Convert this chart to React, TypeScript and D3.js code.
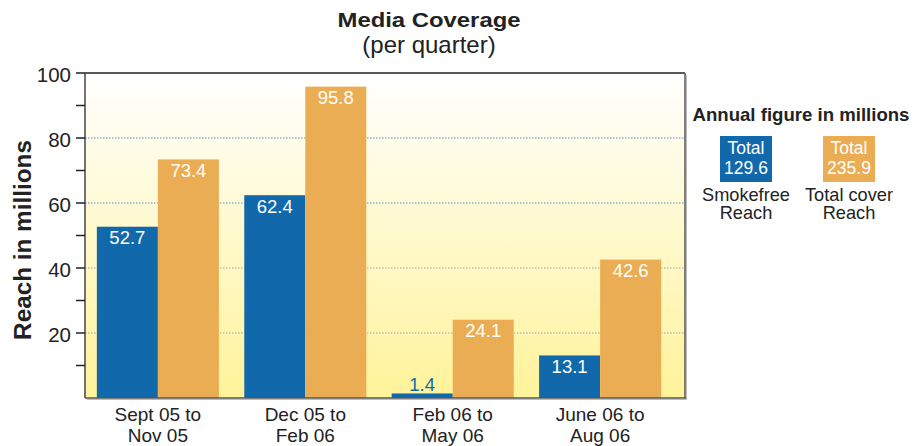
import React from "react";
import * as d3 from "d3";

const categories = [["Sept 05 to", "Nov 05"], ["Dec 05 to", "Feb 06"], ["Feb 06 to", "May 06"], ["June 06 to", "Aug 06"]];
const seriesNames = ["Smokefree Reach", "Total cover Reach"];
const smokefree = [52.7, 62.4, 1.4, 13.1];
const totalCover = [73.4, 95.8, 24.1, 42.6];
const totals = ["129.6", "235.9"];
const yTicks = [20, 40, 60, 80, 100];
const yMinor = [10, 30, 50, 70, 90];

const BLUE = "#1169ab";
const ORANGE = "#ebad53";
const FONT = "Liberation Sans, Arial, sans-serif";

export default function App() {
  const W = 922, H = 446;
  const left = 85, right = 685, top = 73, bottom = 398;
  const y = d3.scaleLinear().domain([0, 100]).range([bottom, top]);
  const x = d3.scaleBand<number>().domain([0, 1, 2, 3]).range([88, 670]).paddingInner(0.172).paddingOuter(0.06);
  const bw = x.bandwidth() / 2;
  const series = [smokefree, totalCover];
  const colors = [BLUE, ORANGE];

  return (
    <svg width={W} height={H} style={{ position: "absolute", left: 0, top: 0, fontFamily: FONT }}>
      <defs>
        <linearGradient id="bg" x1="0" y1="0" x2="0" y2="1">
          <stop offset="0" stopColor="#ffffff" />
          <stop offset="1" stopColor="#fff39a" />
        </linearGradient>
      </defs>
      <rect x={left} y={top} width={right - left} height={bottom - top} fill="url(#bg)" />
      {yTicks.filter(t => t < 100).map(t => (
        <line key={t} x1={left} x2={right} y1={y(t)} y2={y(t)} stroke={t >= 60 ? "#5b8fd6" : "#9aa8b8"} strokeWidth={1} strokeDasharray="1.5,1.5" />
      ))}
      {series.map((s, si) => s.map((v, i) => (
        <rect key={`${si}-${i}`} x={(x(i) as number) + si * bw} y={y(v)} width={bw} height={bottom - y(v)} fill={colors[si]} />
      )))}
      {series.map((s, si) => s.map((v, i) => {
        const cx = (x(i) as number) + si * bw + bw / 2;
        const inside = bottom - y(v) > 25;
        return (
          <text key={`l${si}-${i}`} x={cx} y={inside ? y(v) + 17.5 : y(v) - 2.5} textAnchor="middle" fontSize={18.5} fill={inside ? "#ffffff" : BLUE}>{v.toFixed(1)}</text>
        );
      }))}
      {/* frame */}
      <line x1={left} x2={right} y1={top} y2={top} stroke="#222" strokeWidth={1.5} />
      <line x1={right} x2={right} y1={top} y2={bottom} stroke="#555" strokeWidth={1.5} />
      <line x1={right + 1.5} x2={right + 1.5} y1={top + 2} y2={bottom + 1.5} stroke="#bbb" strokeWidth={1} />
      <line x1={left} x2={right + 1} y1={bottom} y2={bottom} stroke="#555" strokeWidth={1.5} />
      <line x1={left + 2} x2={right + 2} y1={bottom + 1.5} y2={bottom + 1.5} stroke="#bbb" strokeWidth={1} />
      <line x1={left} x2={left} y1={top} y2={bottom} stroke="#444" strokeWidth={1.5} />
      {yTicks.concat(yMinor).map(t => (
        <line key={`t${t}`} x1={left - 9} x2={left} y1={y(t)} y2={y(t)} stroke="#222" strokeWidth={1.5} />
      ))}
      {yTicks.map(t => (
        <text key={`yl${t}`} x={71} y={y(t) + 8.5} textAnchor="end" fontSize={20.5} fill="#222">{t}</text>
      ))}
      {categories.map((c, i) => {
        const cx = (x(i) as number) + x.bandwidth() / 2;
        return (
          <text key={`c${i}`} textAnchor="middle" fontSize={19} fill="#222">
            <tspan x={cx} y={421}>{c[0]}</tspan>
            <tspan x={cx} y={442}>{c[1]}</tspan>
          </text>
        );
      })}
      <text x={429} y={27} textAnchor="middle" fontSize={21} fontWeight="bold" fill="#222" textLength={183} lengthAdjust="spacingAndGlyphs">Media Coverage</text>
      <text x={429} y={53} textAnchor="middle" fontSize={24} fill="#222">(per quarter)</text>
      <text transform={`translate(31,${240}) rotate(-90)`} textAnchor="middle" fontSize={24.3} fontWeight="bold" fill="#222">Reach in millions</text>
      <text x={801} y={121} textAnchor="middle" fontSize={18.6} fontWeight="bold" fill="#222">Annual figure in millions</text>
      {seriesNames.map((n, i) => {
        const bx = i === 0 ? 720 : 823;
        const cx = bx + 26;
        const parts = n === "Smokefree Reach" ? ["Smokefree", "Reach"] : ["Total cover", "Reach"];
        return (
          <g key={n}>
            <rect x={bx} y={136} width={52} height={46} fill={colors[i]} />
            <text textAnchor="middle" fontSize={17.5} fill="#fff">
              <tspan x={cx} y={154}>Total</tspan>
              <tspan x={cx} y={173.5}>{totals[i]}</tspan>
            </text>
            <text textAnchor="middle" fontSize={18.2} fill="#222">
              <tspan x={cx} y={200.5}>{parts[0]}</tspan>
              <tspan x={cx} y={219}>{parts[1]}</tspan>
            </text>
          </g>
        );
      })}
    </svg>
  );
}
